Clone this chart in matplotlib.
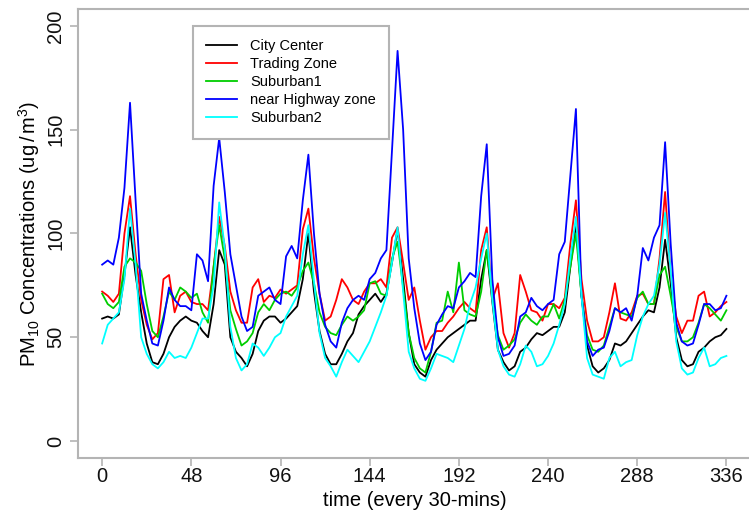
import matplotlib
matplotlib.use("Agg")
import matplotlib.pyplot as plt
import numpy as np

plt.rcParams['font.family'] = ['Liberation Sans', 'DejaVu Sans']
plt.rcParams['mathtext.fontset'] = 'custom'
plt.rcParams['mathtext.rm'] = 'Liberation Sans'
plt.rcParams['mathtext.it'] = 'Liberation Sans:italic'

# half-hourly index, read every 3 steps
time_idx = np.arange(0, 337, 3)

city_center = [
    59, 60, 59, 61, 80, 103, 80, 62, 47, 38, 37, 42, 50, 55, 58, 60, 58, 57, 53, 50, 66, 92, 85, 50,
    43, 40, 36, 42, 53, 58, 60, 60, 57, 59, 62, 65, 78, 100, 72, 53, 42, 37, 37, 42, 48, 52,
    61, 65, 68, 71, 67, 71, 86, 102, 78, 52, 37, 33, 31, 39, 44, 47, 50, 52, 54, 56, 58, 58,
    78, 92, 67, 44, 38, 34, 36, 43, 45, 49, 52, 51, 53, 55, 55, 62, 84, 105, 70, 46, 36, 33,
    35, 39, 47, 46, 48, 52, 56, 60, 63, 62, 74, 97, 76, 50, 39, 36, 37, 43, 45, 48, 50, 51, 54,
]
trading_zone = [
    72, 70, 67, 71, 100, 118, 90, 68, 56, 49, 52, 78, 80, 62, 70, 72, 67, 66, 66, 63, 84, 108, 94, 72,
    63, 57, 57, 74, 78, 67, 70, 69, 73, 71, 73, 75, 102, 112, 88, 71, 58, 60, 68, 78, 74, 68,
    66, 72, 76, 76, 78, 74, 98, 103, 86, 68, 74, 58, 44, 50, 53, 53, 57, 60, 64, 67, 64, 62,
    92, 103, 68, 76, 52, 45, 52, 80, 72, 63, 62, 58, 66, 66, 64, 69, 95, 116, 78, 58, 48, 48,
    50, 62, 76, 59, 58, 62, 70, 71, 66, 66, 88, 120, 80, 60, 52, 58, 58, 70, 72, 60, 62, 65, 67,
]
suburban1 = [
    71, 66, 64, 67, 84, 88, 86, 82, 66, 53, 50, 60, 72, 68, 74, 72, 69, 71, 62, 57, 84, 104, 88, 63,
    54, 46, 48, 52, 62, 66, 63, 68, 71, 72, 70, 74, 82, 86, 76, 62, 55, 52, 51, 56, 60, 58,
    60, 63, 76, 77, 71, 70, 88, 96, 74, 52, 40, 35, 33, 43, 57, 58, 72, 62, 86, 63, 61, 60,
    72, 92, 70, 51, 44, 46, 49, 57, 61, 58, 56, 60, 60, 66, 59, 68, 84, 100, 70, 51, 44, 43,
    46, 55, 64, 62, 61, 60, 69, 72, 66, 66, 80, 84, 70, 55, 48, 48, 50, 57, 66, 64, 61, 58, 63,
]
highway_zone = [
    85, 87, 85, 98, 122, 163, 116, 71, 58, 47, 46, 58, 74, 68, 65, 65, 63, 90, 87, 77, 123, 146, 120, 90,
    75, 60, 53, 55, 70, 72, 74, 68, 66, 89, 94, 88, 116, 138, 100, 71, 56, 48, 45, 57, 64, 68,
    70, 68, 78, 81, 88, 92, 140, 188, 150, 88, 64, 47, 39, 43, 56, 61, 65, 64, 74, 77, 81, 79,
    118, 143, 78, 50, 41, 42, 46, 60, 62, 69, 65, 63, 66, 68, 90, 96, 128, 160, 70, 48, 41, 44,
    45, 53, 64, 62, 64, 58, 70, 93, 87, 98, 104, 144, 95, 57, 48, 46, 47, 56, 66, 66, 63, 64, 70,
]
suburban2 = [
    47, 56, 59, 62, 78, 112, 85, 50, 42, 37, 35, 38, 43, 40, 41, 40, 45, 52, 59, 59, 75, 115, 93, 55,
    40, 34, 37, 47, 45, 41, 45, 50, 52, 60, 65, 70, 90, 104, 77, 52, 40, 36, 31, 38, 44, 41,
    38, 43, 48, 55, 62, 70, 86, 103, 72, 43, 35, 30, 29, 35, 42, 41, 40, 38, 46, 54, 66, 74,
    88, 100, 68, 44, 36, 32, 31, 37, 46, 43, 36, 37, 41, 47, 56, 66, 88, 108, 70, 40, 32, 31,
    30, 40, 43, 36, 38, 39, 51, 60, 66, 70, 85, 110, 82, 48, 35, 32, 33, 40, 45, 36, 37, 40, 41,
]

series = [
    ("City Center", city_center, "black"),
    ("Trading Zone", trading_zone, "#FF0000"),
    ("Suburban1", suburban1, "#00CD00"),
    ("near Highway zone", highway_zone, "#0000FF"),
    ("Suburban2", suburban2, "#00FFFF"),
]

x_ticks = [0, 48, 96, 144, 192, 240, 288, 336]
y_ticks = [0, 50, 100, 150, 200]

W, H = 749, 518
fig = plt.figure(figsize=(W / 100, H / 100), dpi=100)
# box runs past the right edge of the picture, like the source
ax = fig.add_axes([78 / W, (H - 457.6) / H, (751.5 - 78) / W, (457.6 - 9.4) / H])

for name, vals, col in series:
    assert len(vals) == len(time_idx)
    ax.plot(time_idx, vals, color=col, lw=1.3, label=name)

ax.set_xlim(-13, 349.5)
ax.set_ylim(-8, 208)
ax.set_xticks(x_ticks)
ax.set_yticks(y_ticks)
ax.set_yticklabels([str(v) for v in y_ticks], rotation=90, va='center')

gray = '#B4B4B4'
for sp in ax.spines.values():
    sp.set_color(gray)
    sp.set_linewidth(1.5)
ax.tick_params(axis='both', direction='out', length=6, width=1.2, color=gray,
               labelsize=14.5, labelcolor='#111111')
ax.tick_params(axis='x', pad=0.5)
ax.tick_params(axis='y', pad=3)

ax.set_xlabel('time (every 30-mins)', fontsize=14.5, labelpad=4)
ax.set_ylabel(r'PM$_{10}$ Concentrations (ug$\,/\,$m$^{3}$)', fontsize=14.5, labelpad=3)

leg = ax.legend(loc='upper left', bbox_to_anchor=(193 / W, 1 - 26 / H),
                bbox_transform=fig.transFigure, borderaxespad=0, fancybox=False,
                fontsize=10.5, handlelength=2.1, handletextpad=0.9, labelspacing=0.28,
                borderpad=0.9, framealpha=1)
leg.get_frame().set_edgecolor(gray)
leg.get_frame().set_linewidth(1.5)

fig.savefig('out.png', dpi=100)
